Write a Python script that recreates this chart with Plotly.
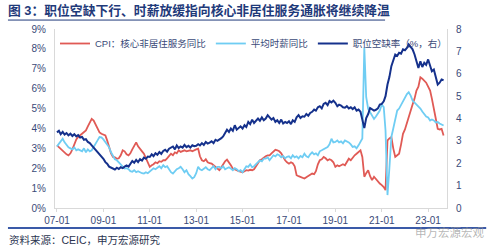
import pandas as pd
import plotly.graph_objects as go

months = pd.date_range("2007-01-01", periods=201, freq="MS")

# 职位空缺率（%，右）
vacancy = [
    3.38, 3.45, 3.30, 3.40, 3.28, 3.35, 3.25, 3.32, 3.22, 3.30, 3.20, 3.26,
    3.15, 3.18, 3.05, 3.08, 2.95, 2.90, 2.80, 2.70, 2.62, 2.50, 2.40, 2.32,
    2.20, 2.05, 1.98, 1.85, 1.80, 1.75, 1.72, 1.80, 1.74, 1.82, 1.78, 1.85,
    1.90, 1.85, 2.00, 2.10, 2.02, 2.15, 2.05, 2.18, 2.12, 2.25, 2.20, 2.30,
    2.28, 2.40, 2.32, 2.45, 2.38, 2.50, 2.42, 2.55, 2.60, 2.52, 2.65, 2.70,
    2.75, 2.62, 2.80, 2.68, 2.75, 2.70, 2.82, 2.72, 2.78, 2.70, 2.80, 2.76,
    2.78, 2.85, 2.80, 2.90, 2.82, 2.95, 2.88, 2.92, 2.98, 2.90, 3.05, 3.00,
    3.05, 3.12, 3.20, 3.35, 3.50, 3.40, 3.55, 3.45, 3.70, 3.50, 3.60, 3.65,
    3.55, 3.70, 3.62, 3.85, 3.75, 3.95, 3.80, 3.88, 4.00, 3.90, 4.05, 3.92,
    4.00, 4.15, 4.05, 3.95, 4.02, 3.85, 3.92, 3.80, 3.95, 3.78, 3.85, 3.80,
    3.88, 3.75, 3.92, 3.85, 4.05, 4.15, 4.02, 4.10, 4.08, 4.20, 4.12, 4.25,
    4.30, 4.40, 4.35, 4.50, 4.55, 4.45, 4.65, 4.70, 4.60, 4.78, 4.72, 4.80,
    4.70, 4.55, 4.62, 4.58, 4.50, 4.48, 4.55, 4.45, 4.50, 4.42, 4.50, 4.35,
    4.40, 4.30, 3.95, 3.57, 4.02, 4.20, 4.47, 4.40, 4.35, 4.39, 4.45, 4.62,
    4.65, 4.77, 5.00, 5.52, 5.85, 6.34, 6.60, 6.86, 6.80, 6.94, 6.90, 7.09,
    7.05, 7.15, 7.31, 7.20, 7.09, 6.86, 6.55, 6.26, 6.56, 6.30, 6.49, 6.40,
    6.64, 6.30, 6.11, 6.19, 5.90, 5.52, 5.60, 5.74, 5.71,
]

# CPI：核心非居住服务同比
core_services = [
    3.15, 3.05, 2.95, 2.85, 2.75, 2.70, 2.65, 2.75, 2.95, 3.20, 3.45, 3.57,
    3.65, 3.75, 3.80, 3.90, 4.10, 4.30, 4.48, 4.40, 4.20, 3.95, 3.80, 3.73,
    3.68, 3.65, 3.40, 3.05, 2.75, 2.57, 2.55, 2.48, 2.50, 2.65, 2.90, 2.85,
    2.70, 2.65, 2.75, 2.95, 3.15, 3.30, 3.10, 2.95, 2.85, 2.73, 2.50, 2.30,
    2.07, 2.15, 2.20, 2.30, 2.25, 2.35, 2.32, 2.40, 2.40, 2.50, 2.60, 2.73,
    2.65, 2.80, 2.75, 2.90, 2.82, 2.85, 2.90, 2.85, 2.88, 2.90, 2.85, 2.92,
    2.95, 2.98, 2.60, 2.40, 2.35, 2.45, 2.30, 2.25, 2.23, 2.15, 2.05, 2.00,
    1.90, 2.05, 2.20, 2.35, 2.43, 2.30, 2.15, 1.98, 1.95, 1.90, 1.85, 1.82,
    1.80, 1.85, 1.90, 1.88, 1.92, 1.90, 1.95, 2.10, 2.25, 2.40, 2.45, 2.55,
    2.60, 2.65, 2.65, 2.75, 2.85, 2.93, 2.90, 2.85, 2.75, 2.55, 2.40, 2.30,
    2.23, 2.30, 2.25, 2.10, 1.65, 1.60, 1.55, 1.50, 1.48, 1.55, 1.60, 1.65,
    1.73, 1.70, 1.85, 2.20, 2.40, 2.45, 2.57, 2.50, 2.40, 2.45, 2.40, 2.30,
    2.07, 2.15, 2.10, 2.15, 2.20, 2.15, 2.30, 2.48, 2.40, 2.55, 2.65, 2.73,
    2.82, 2.90, 2.57, 1.57, 1.75, 1.90, 1.60, 1.40, 1.57, 1.45, 1.30, 1.23,
    1.15, 1.05, 0.90, 3.40, 3.50, 3.57, 3.00, 2.57, 2.65, 2.73, 3.20, 3.73,
    3.95, 4.30, 4.60, 4.90, 5.20, 5.50, 5.90, 6.10, 6.57, 6.50, 6.40, 6.30,
    6.10, 5.90, 5.50, 5.07, 4.50, 3.98, 3.95, 3.98, 3.65,
]

# 平均时薪同比
hourly_wage = [
    3.10, 3.23, 3.35, 3.48, 3.30, 3.15, 3.05, 3.00, 2.95, 3.05, 2.90, 2.95,
    2.90, 2.85, 3.00, 2.80, 2.95, 2.85, 2.90, 3.05, 3.20, 3.40, 3.57, 3.55,
    3.45, 3.30, 3.15, 3.05, 2.80, 2.60, 2.45, 2.40, 2.30, 2.20, 2.10, 1.98,
    2.00, 1.95, 1.85, 1.82, 1.90, 1.80, 1.85, 1.78, 1.75, 1.73, 1.80, 1.75,
    1.85, 1.92, 2.00, 1.95, 2.05, 2.10, 2.00, 2.15, 2.05, 2.10, 1.95, 1.80,
    1.73, 1.85, 1.95, 2.00, 2.07, 1.95, 1.80, 1.90, 1.70, 1.60, 1.48, 1.55,
    1.75, 2.07, 1.95, 1.90, 2.00, 2.05, 1.95, 1.90, 2.00, 2.10, 1.95, 2.07,
    2.07, 2.00, 2.10, 1.95, 2.00, 2.05, 1.98, 1.90, 2.00, 1.95, 1.85, 1.90,
    1.80, 1.95, 2.10, 2.07, 2.20, 2.05, 2.10, 2.20, 2.30, 2.40, 2.35, 2.48,
    2.48, 2.55, 2.40, 2.50, 2.65, 2.60, 2.70, 2.65, 2.55, 2.62, 2.50, 2.57,
    2.60, 2.50, 2.65, 2.55, 2.60, 2.50, 2.62, 2.55, 2.73, 2.60, 2.55, 2.70,
    2.80, 2.70, 2.75, 2.65, 2.85, 2.90, 2.95, 3.00, 3.07, 3.20, 3.48, 3.30,
    3.32, 3.40, 3.30, 3.35, 3.25, 3.40, 3.35, 3.30, 3.20, 3.07, 3.10, 3.00,
    3.15, 3.32, 3.50, 8.07, 5.57, 4.98, 4.80, 4.60, 4.48, 4.60, 4.75, 4.90,
    5.20, 5.07, 3.90, 0.65, 2.00, 3.57, 4.00, 4.40, 4.90, 5.00, 5.20, 5.40,
    5.60, 5.73, 5.82, 5.65, 5.40, 5.30, 5.20, 5.07, 5.00, 4.85, 4.73, 4.60,
    4.55, 4.40, 4.45, 4.40, 4.30, 4.32, 4.25, 4.20, 4.15,
]

x_tickvals = pd.date_range("2007-01-01", "2023-01-01", freq="24MS")
x_ticktext = ["07-01", "09-01", "11-01", "13-01", "15-01", "17-01", "19-01", "21-01", "23-01"]

FONT = "Liberation Sans, Arial, Noto Sans CJK SC, sans-serif"
TICK_COLOR = "#3a4a78"
AXIS_COLOR = "#d9d9d9"

fig = go.Figure()
fig.add_trace(go.Scatter(x=months, y=core_services, name="CPI：核心非居住服务同比",
                         mode="lines", line=dict(color="#e05a55", width=1.8)))
fig.add_trace(go.Scatter(x=months, y=hourly_wage, name="平均时薪同比",
                         mode="lines", line=dict(color="#6fcdf3", width=1.8)))
fig.add_trace(go.Scatter(x=months, y=vacancy, name="职位空缺率（%，右）", yaxis="y2",
                         mode="lines", line=dict(color="#15318c", width=2)))

fig.update_layout(
    width=500, height=251,
    margin=dict(l=55, r=53, t=29, b=43),
    paper_bgcolor="white", plot_bgcolor="white",
    font=dict(family=FONT, size=10, color=TICK_COLOR),
    showlegend=True,
    legend=dict(orientation="h", x=0.0, y=1.0, xanchor="left", yanchor="top",
                font=dict(size=9.5, color="#3a4a78"), bgcolor="rgba(0,0,0,0)",
                itemwidth=30, tracegroupgap=0, entrywidthmode="pixels"),
    xaxis=dict(type="date", range=["2006-12-01", "2023-10-25"],
               tickvals=x_tickvals, ticktext=x_ticktext,
               showgrid=False, showline=True, linecolor=AXIS_COLOR, linewidth=1,
               ticks="outside", ticklen=3, tickcolor=AXIS_COLOR,
               tickfont=dict(size=10, color=TICK_COLOR), zeroline=False),
    yaxis=dict(range=[0, 9], dtick=1, ticksuffix="%", showgrid=False,
               showline=True, linecolor=AXIS_COLOR, linewidth=1, zeroline=False,
               ticks="", ticklabelstandoff=6,
               tickfont=dict(size=10, color=TICK_COLOR)),
    yaxis2=dict(range=[0, 8], dtick=1, overlaying="y", side="right", showgrid=False,
                showline=True, linecolor=AXIS_COLOR, linewidth=1, zeroline=False,
                ticks="", ticklabelstandoff=6,
                tickfont=dict(size=10, color=TICK_COLOR)),
)

# title and footer
fig.add_annotation(xref="paper", yref="paper", x=-0.125, y=1.106,
                   xanchor="left", yanchor="middle", showarrow=False,
                   text="<b>图 3：职位空缺下行、时薪放缓指向核心非居住服务通胀将继续降温</b>",
                   font=dict(size=12.8, color="#1f3a7a", family=FONT))
fig.add_shape(type="line", xref="paper", yref="paper", x0=-0.120, x1=0.842,
              y0=1.050, y1=1.050,
              line=dict(color="#1f3a7a", width=1))
fig.add_annotation(xref="paper", yref="paper", x=-0.122, y=-0.179,
                   xanchor="left", yanchor="middle", showarrow=False,
                   text="资料来源：CEIC，申万宏源研究",
                   font=dict(size=10.5, color="#2b3550", family=FONT))
fig.add_shape(type="line", xref="paper", yref="paper", x0=-0.120, x1=1.10,
              y0=-0.112, y1=-0.112,
              line=dict(color="#3a5aa8", width=2))
fig.add_annotation(xref="paper", yref="paper", x=1.10, y=-0.137,
                   xanchor="right", yanchor="middle", showarrow=False,
                   text="申万宏源宏观",
                   font=dict(size=11.5, color="rgba(150,150,150,0.7)", family=FONT))

fig.write_html("out.html")
